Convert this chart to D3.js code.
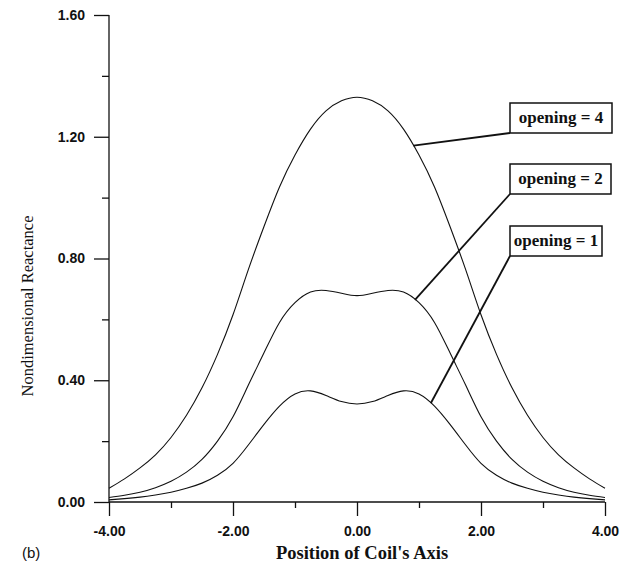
<!DOCTYPE html>
<html>
<head>
<meta charset="utf-8">
<script src="https://cdnjs.cloudflare.com/ajax/libs/d3/7.8.5/d3.min.js"></script>
<style>
  body { margin: 0; background: #fff; }
  svg { display: block; }
</style>
</head>
<body>
<div id="chart"></div>
<script>
// position of coil's axis
var positions = [-4, -3.75, -3.5, -3.25, -3, -2.75, -2.5, -2.25, -2, -1.75, -1.5, -1.25, -1, -0.75, -0.5, -0.25,
  0, 0.25, 0.5, 0.75, 1, 1.25, 1.5, 1.75, 2, 2.25, 2.5, 2.75, 3, 3.25, 3.5, 3.75, 4];

// nondimensional reactance for each opening
var opening4 = [0.045, 0.076, 0.112, 0.155, 0.212, 0.285, 0.375, 0.485, 0.615, 0.765, 0.905, 1.035, 1.140, 1.225, 1.285, 1.318,
  1.330, 1.318, 1.285, 1.225, 1.140, 1.035, 0.905, 0.765, 0.615, 0.485, 0.375, 0.285, 0.212, 0.155, 0.112, 0.076, 0.045];
var opening2 = [0.015, 0.022, 0.032, 0.047, 0.068, 0.098, 0.140, 0.200, 0.280, 0.385, 0.490, 0.590, 0.655, 0.690, 0.695, 0.686,
  0.678, 0.686, 0.695, 0.690, 0.655, 0.590, 0.490, 0.385, 0.280, 0.200, 0.140, 0.098, 0.068, 0.047, 0.032, 0.022, 0.015];
var opening1 = [0.007, 0.011, 0.016, 0.023, 0.032, 0.045, 0.062, 0.088, 0.127, 0.188, 0.255, 0.315, 0.355, 0.365, 0.350, 0.330,
  0.322, 0.330, 0.350, 0.365, 0.355, 0.315, 0.255, 0.188, 0.127, 0.088, 0.062, 0.045, 0.032, 0.023, 0.016, 0.011, 0.007];

var labels = ['opening = 4', 'opening = 2', 'opening = 1'];
var labelAt = [0.91, 0.935, 1.19];   // where each leader touches its curve

var xTicks = [-4, -2, 0, 2, 4];
var xMinorTicks = [-3, -1, 1, 3];
var yTicks = [0, 0.4, 0.8, 1.2, 1.6];
var yMinorTicks = [0.2, 0.6, 1.0, 1.4];

var width = 628, height = 564;

var svg = d3.select('#chart').append('svg')
    .attr('width', width)
    .attr('height', height);

var x = d3.scaleLinear().domain([-4, 4]).range([109, 605]);
var y = d3.scaleLinear().domain([0, 1.6]).range([502, 15]);

var series = [opening4, opening2, opening1];

// curves
var line = d3.line()
    .x(function(d, i) { return x(positions[i]); })
    .y(function(d) { return y(d); })
    .curve(d3.curveNatural);

svg.selectAll('path.curve')
    .data(series)
  .enter().append('path')
    .attr('class', 'curve')
    .attr('d', line)
    .attr('fill', 'none')
    .attr('stroke', '#111')
    .attr('stroke-width', 1.1);

// axes
var tickFont = '"Liberation Sans", Arial, sans-serif';

var xAxis = d3.axisBottom(x).tickValues(xTicks).tickSize(14).tickPadding(10)
    .tickFormat(function(d) { return d.toFixed(2); });
var xMinor = d3.axisBottom(x).tickValues(xMinorTicks).tickSize(6).tickFormat('');
var yAxis = d3.axisLeft(y).tickValues(yTicks).tickSize(15).tickPadding(9)
    .tickFormat(function(d) { return d.toFixed(2); });
var yMinor = d3.axisLeft(y).tickValues(yMinorTicks).tickSize(7).tickFormat('');

function styleAxis(g) {
  g.select('.domain').attr('stroke', '#111').attr('stroke-width', 1.3);
  g.selectAll('.tick line').attr('stroke', '#111').attr('stroke-width', 1.3);
  g.selectAll('.tick text')
      .attr('fill', '#111')
      .style('font-family', tickFont)
      .style('font-weight', 'bold')
      .style('font-size', '14px');
}

svg.append('g').attr('transform', 'translate(0,502)').call(xMinor).call(styleAxis)
    .select('.domain').remove();
svg.append('g').attr('transform', 'translate(109,0)').call(yMinor).call(styleAxis)
    .select('.domain').remove();
svg.append('g').attr('transform', 'translate(0,502)').call(xAxis).call(styleAxis)
    .select('.domain').attr('d', 'M109,0H605');
svg.append('g').attr('transform', 'translate(109,0)').call(yAxis).call(styleAxis)
    .select('.domain').attr('d', 'M0,15V502');

// axis titles
svg.append('text')
    .attr('x', 362)
    .attr('y', 559)
    .attr('text-anchor', 'middle')
    .style('font-family', '"Liberation Serif", "Times New Roman", serif')
    .style('font-size', '18.5px')
    .style('font-weight', 'bold')
    .attr('fill', '#111')
    .text("Position of Coil's Axis");

svg.append('text')
    .attr('transform', 'translate(33,306) rotate(-90)')
    .attr('text-anchor', 'middle')
    .style('font-family', '"Liberation Serif", "Times New Roman", serif')
    .style('font-size', '16.5px')
    .attr('fill', '#111')
    .text('Nondimensional Reactance');

svg.append('text')
    .attr('x', 22)
    .attr('y', 558)
    .style('font-family', tickFont)
    .style('font-size', '15px')
    .attr('fill', '#111')
    .text('(b)');

// labels with leader lines
var boxes = [
  {x: 510, y: 103, w: 102, h: 30},
  {x: 510, y: 164, w: 101, h: 30},
  {x: 510, y: 226, w: 92, h: 30}
];

function valueAt(vals, u) {
  var i = d3.bisectRight(positions, u) - 1;
  var t = (u - positions[i]) / (positions[i + 1] - positions[i]);
  return vals[i] + t * (vals[i + 1] - vals[i]);
}

labels.forEach(function(lab, k) {
  var b = boxes[k];
  svg.append('line')
      .attr('x1', x(labelAt[k]))
      .attr('y1', y(valueAt(series[k], labelAt[k])))
      .attr('x2', b.x)
      .attr('y2', b.y + b.h)
      .attr('stroke', '#111')
      .attr('stroke-width', 1.8);
  svg.append('rect')
      .attr('x', b.x)
      .attr('y', b.y)
      .attr('width', b.w)
      .attr('height', b.h)
      .attr('fill', '#fff')
      .attr('stroke', '#111')
      .attr('stroke-width', 1.5);
  svg.append('text')
      .attr('x', b.x + b.w / 2)
      .attr('y', b.y + b.h / 2 + 5)
      .attr('text-anchor', 'middle')
      .style('font-family', '"Liberation Serif", "Times New Roman", serif')
      .style('font-size', '17px')
      .style('font-weight', 'bold')
      .attr('fill', '#111')
      .text(lab);
});
</script>
</body>
</html>
